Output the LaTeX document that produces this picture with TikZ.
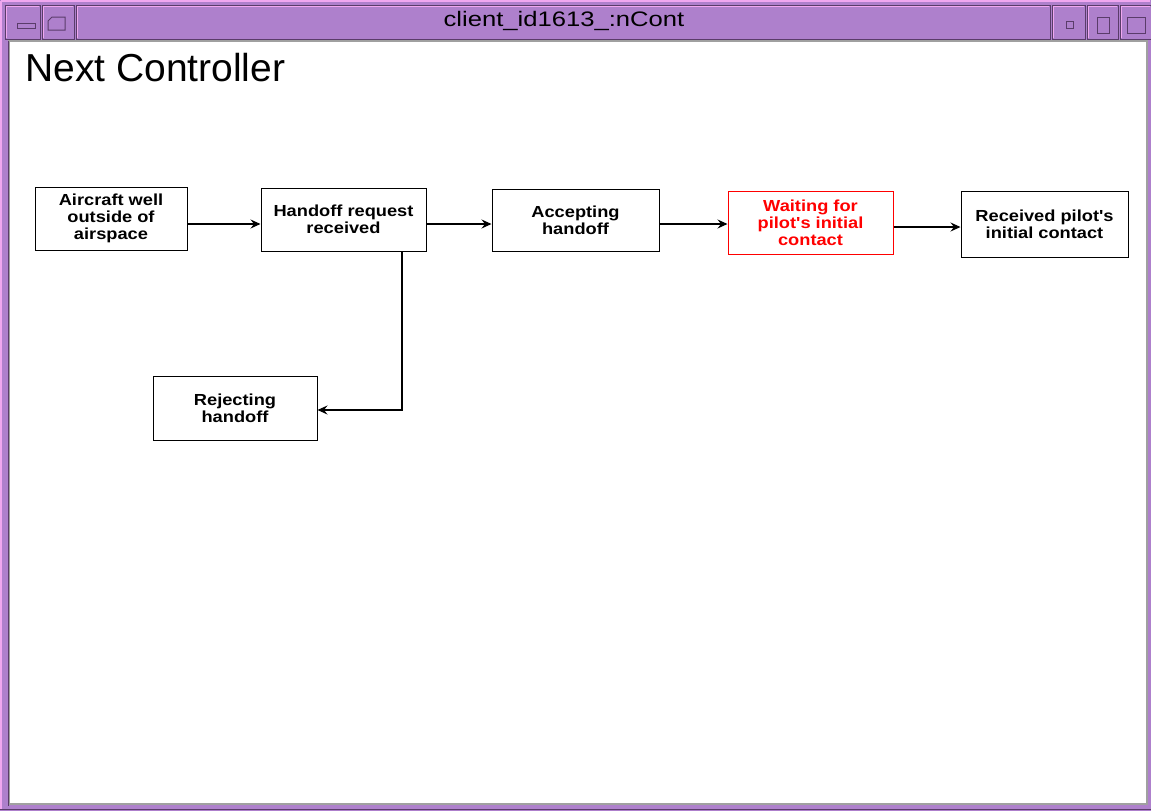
\documentclass[tikz,border=0pt]{standalone}
\usepackage{fontspec}
\setmainfont{Liberation Sans}
\newfontfamily\boxfont[FakeStretch=1.14]{Liberation Sans}
\newfontfamily\titlefont[FakeStretch=1.22]{Liberation Sans}
\usetikzlibrary{arrows.meta}
\definecolor{wpurple}{HTML}{AE80CC}
\definecolor{wlight}{HTML}{F0A8F0}
\definecolor{wdark}{HTML}{5A3C6A}
\definecolor{wgray}{HTML}{A0A0A0}
\definecolor{sred}{HTML}{FF0000}
\tikzset{
  state/.style={draw=black, line width=1pt, fill=white, inner sep=0pt, align=center,
     font=\boxfont\fontsize{16}{17.2}\selectfont\bfseries},
  redstate/.style={state, draw=sred, text=sred},
  flow/.style={-{Stealth[length=10pt,width=9pt,inset=3.5pt]}, line width=1.1pt},
  btn/.style={fill=wpurple, draw=wdark, line width=1pt},
}
\begin{document}
\begin{tikzpicture}[x=1pt,y=-1pt]
\useasboundingbox (0,0) rectangle (1151,811);
% window frame
\fill[wpurple] (0,0) rectangle (1151,811);
\draw[wlight, line width=1.5pt] (0.75,0.75) -- (1150,0.75);
\draw[wlight, line width=1.5pt] (0.75,0.75) -- (0.75,810);
\draw[wdark, line width=1.5pt] (0,809.5) -- (1151,809.5);
% title bar parts
\draw[btn] (5,5) rectangle (40,39);
\draw[btn] (42,5) rectangle (74,39);
\draw[btn] (76,5) rectangle (1050,39);
\draw[btn] (1052,5) rectangle (1085,39);
\draw[btn] (1087,5) rectangle (1118,39);
\draw[btn] (1120,5) rectangle (1151,39);
\draw[wlight, line width=1pt] (6,38) -- (6,6) -- (39,6);
\draw[wlight, line width=1pt] (43,38) -- (43,6) -- (73,6);
\draw[wlight, line width=1pt] (77,38) -- (77,6) -- (1049,6);
\draw[wlight, line width=1pt] (1053,38) -- (1053,6) -- (1084,6);
\draw[wlight, line width=1pt] (1088,38) -- (1088,6) -- (1117,6);
\draw[wlight, line width=1pt] (1121,38) -- (1121,6) -- (1150,6);
% button glyphs
\draw[wdark, line width=1pt] (17,23) rectangle (35,28);
\draw[wdark, line width=1pt] (48,30) -- (48,21) -- (52,17) -- (65,17) -- (65,30) -- cycle;
\draw[wdark, line width=1pt] (1066,21) rectangle (1073,28);
\draw[wdark, line width=1pt] (1097,17) rectangle (1109,33);
\draw[wdark, line width=1pt] (1127,17) rectangle (1145,33);
\node (title) at (564,21) {\titlefont\fontsize{21}{22}\selectfont client\_id1613\_:nCont};
% content area
\fill[white] (9,41) rectangle (1148,805);
\draw[wgray, line width=1.5pt] (9,805) -- (9,41) -- (1148,41);
\draw[wgray, line width=1.5pt] (10,804) -- (1147,804) -- (1147,42);
\draw[wdark, line width=1pt] (8,41) -- (8,806);
% heading
\node[anchor=west, inner sep=0pt] (heading) at (25,68) {\fontsize{39}{40}\selectfont Next Controller};
% states
\node[state, minimum width=152pt, minimum height=63pt] (a) at (111,218.5) {Aircraft well\\outside of\\airspace};
\node[state, minimum width=165pt, minimum height=63pt] (h) at (343.5,219.5) {Handoff request\\received};
\node[state, minimum width=167pt, minimum height=62pt] (acc) at (575.5,220) {Accepting\\handoff};
\node[redstate, minimum width=165pt, minimum height=63pt] (w) at (810.5,222.5) {Waiting for\\pilot's initial\\contact};
\node[state, minimum width=167pt, minimum height=66pt] (r) at (1044.5,224) {Received pilot's\\initial contact};
\node[state, minimum width=164pt, minimum height=64pt] (rej) at (235,408) {Rejecting\\handoff};
% connectors
\draw[flow] (a.east |- 0,224) -- (h.west |- 0,224);
\draw[flow] (h.east |- 0,224) -- (acc.west |- 0,224);
\draw[flow] (acc.east |- 0,224) -- (w.west |- 0,224);
\draw[flow] (w.east |- 0,227) -- (r.west |- 0,227);
\draw[flow] (h.south -| 402,0) |- (rej.east |- 0,410);
\end{tikzpicture}
\end{document}
